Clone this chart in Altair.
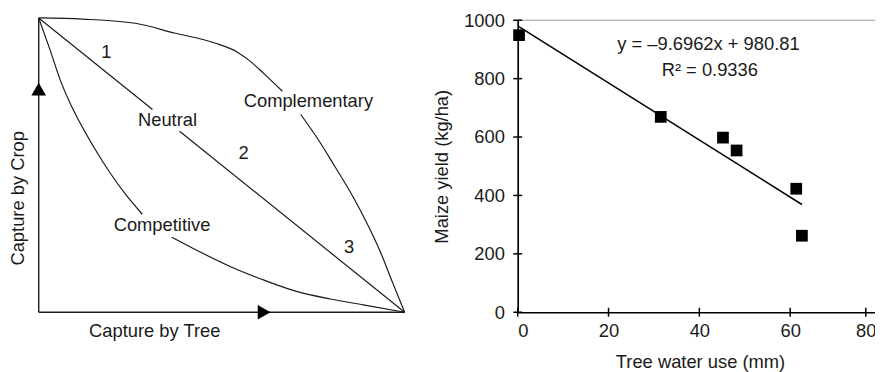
import altair as alt
import pandas as pd

FONT = "Liberation Sans"
INK = "#1a1a1a"
FS = 18.5

# ---------------- left panel (conceptual diagram, unit square) ----------------
comp_x_a = [0, 0.120, 0.264, 0.373, 0.481, 0.544, 0.576, 0.616, 0.666]
comp_y_a = [1.0, 0.996, 0.982, 0.948, 0.915, 0.883, 0.855, 0.810, 0.751]
comp_x_b = [0.716, 0.761, 0.806, 0.860, 0.896, 0.932, 0.968, 1.0]
comp_y_b = [0.672, 0.592, 0.502, 0.390, 0.305, 0.210, 0.098, 0.0]
cmpt_x_a = [0, 0.030, 0.061, 0.088, 0.111, 0.152, 0.192, 0.237, 0.283]
cmpt_y_a = [1.0, 0.895, 0.782, 0.704, 0.648, 0.558, 0.479, 0.401, 0.333]
cmpt_x_b = [0.364, 0.436, 0.526, 0.616, 0.707, 0.797, 0.887, 1.0]
cmpt_y_b = [0.255, 0.208, 0.154, 0.109, 0.070, 0.045, 0.025, 0.0]
neut_x_a = [0, 0.311]
neut_y_a = [1.0, 0.689]
neut_x_b = [0.385, 1.0]
neut_y_b = [0.615, 0.0]

lbl_text = ["1", "2", "3", "Neutral", "Complementary", "Competitive"]
lbl_x = [0.185, 0.560, 0.848, 0.352, 0.737, 0.337]
lbl_y = [0.883, 0.541, 0.223, 0.653, 0.717, 0.296]

ytitle_text = ["Capture by Crop"]
ytitle_x = [-0.056]
ytitle_y = [0.387]
xtitle_text = ["Capture by Tree"]
xtitle_x = [0.317]
xtitle_y = [-0.064]

arrow_shape = ["triangle-up", "triangle-right"]
arrow_x = [0.0, 0.616]
arrow_y = [0.758, 0.0]

axis_x1 = [0, 0]
axis_y1 = [0, 0]
axis_x2 = [0, 1]
axis_y2 = [1, 0]

# ---------------- right panel (data) ----------------
water = [0.3, 31.5, 45.2, 48.2, 61.6, 63.1]
maize = [949, 669, 598, 554, 423, 262]
slope = -9.6962
intercept = 980.81
fit_x = [0.0, 63.1]
x_ticks = [0, 20, 40, 60, 80]
y_ticks = [0, 200, 400, 600, 800, 1000]
eq_text = ["y = \u20139.6962x + 980.81", "R\u00b2 = 0.9336"]
eq_x = [42.0, 42.3]
eq_y = [920, 828]

# ---------------- build left ----------------
rows = []
for seg, xs, ys in [("ca", comp_x_a, comp_y_a), ("cb", comp_x_b, comp_y_b),
                    ("ka", cmpt_x_a, cmpt_y_a), ("kb", cmpt_x_b, cmpt_y_b),
                    ("na", neut_x_a, neut_y_a), ("nb", neut_x_b, neut_y_b)]:
    for a, b in zip(xs, ys):
        rows.append({"seg": seg, "x": a, "y": b})
curves = pd.DataFrame(rows)

LW, LH = 369.3, 297
xs_left = alt.Scale(domain=[0, 1], nice=False, zero=False)
ys_left = alt.Scale(domain=[0, 1], nice=False, zero=False)

curve_layer = alt.Chart(curves).mark_line(
    color=INK, strokeWidth=1.2, interpolate="monotone"
).encode(
    x=alt.X("x:Q", scale=xs_left, axis=None),
    y=alt.Y("y:Q", scale=ys_left, axis=None),
    detail="seg:N",
)

axes_df = pd.DataFrame({"x": axis_x1, "y": axis_y1, "x2": axis_x2, "y2": axis_y2})
axes_layer = alt.Chart(axes_df).mark_rule(color=INK, strokeWidth=1.4).encode(
    x=alt.X("x:Q", scale=xs_left, axis=None), y=alt.Y("y:Q", scale=ys_left, axis=None),
    x2="x2:Q", y2="y2:Q",
)

arrow_df = pd.DataFrame({"shape": arrow_shape, "x": arrow_x, "y": arrow_y})
arrow_layer = alt.Chart(arrow_df).mark_point(
    filled=True, color="#000000", size=220, opacity=1
).encode(
    x=alt.X("x:Q", scale=xs_left, axis=None), y=alt.Y("y:Q", scale=ys_left, axis=None),
    shape=alt.Shape("shape:N", scale=None, legend=None),
)

lbl_df = pd.DataFrame({"t": lbl_text, "x": lbl_x, "y": lbl_y})
lbl_layer = alt.Chart(lbl_df).mark_text(
    font=FONT, fontSize=FS, color=INK, align="center", baseline="middle"
).encode(
    x=alt.X("x:Q", scale=xs_left, axis=None), y=alt.Y("y:Q", scale=ys_left, axis=None),
    text="t:N",
)

yt_df = pd.DataFrame({"t": ytitle_text, "x": ytitle_x, "y": ytitle_y})
yt_layer = alt.Chart(yt_df).mark_text(
    font=FONT, fontSize=FS, color=INK, align="center", baseline="middle", angle=270
).encode(
    x=alt.X("x:Q", scale=xs_left, axis=None), y=alt.Y("y:Q", scale=ys_left, axis=None),
    text="t:N",
)
xt_df = pd.DataFrame({"t": xtitle_text, "x": xtitle_x, "y": xtitle_y})
xt_layer = alt.Chart(xt_df).mark_text(
    font=FONT, fontSize=FS, color=INK, align="center", baseline="middle"
).encode(
    x=alt.X("x:Q", scale=xs_left, axis=None), y=alt.Y("y:Q", scale=ys_left, axis=None),
    text="t:N",
)

left = alt.layer(axes_layer, curve_layer, arrow_layer, lbl_layer, yt_layer, xt_layer).properties(
    width=LW, height=LH
)

# ---------------- build right ----------------
RW, RH = 361.3, 297
xs_r = alt.Scale(domain=[0, 60, 80, 82.2], range=[0, 275, 351.3, 361.3], nice=False, zero=False)
ys_r = alt.Scale(domain=[0, 1000], range=[297, 2.3], nice=False, zero=False)

x_axis = alt.Axis(
    values=x_ticks, format="d", ticks=False, tickSize=0, grid=False, domainColor="#000000",
    domainWidth=1.7, labelFont=FONT, labelFontSize=FS, labelColor=INK, labelPadding=9.5,
    title="Tree water use (mm)", titleFont=FONT, titleFontSize=FS, titleColor=INK,
    titleFontWeight="normal", titlePadding=13, titleX=184,
)
y_axis = alt.Axis(
    values=y_ticks, format="d", ticks=False, tickSize=0, grid=False, domainColor="#000000",
    domainWidth=1.7, labelFont=FONT, labelFontSize=FS, labelColor=INK, labelPadding=13.4,
    title="Maize yield (kg/ha)", titleFont=FONT, titleFontSize=FS, titleColor=INK,
    titleFontWeight="normal", titlePadding=12,
)

pts_df = pd.DataFrame({"w": water, "m": maize})
top_df = pd.DataFrame({"m": [y_ticks[-1]]})
top_layer = alt.Chart(top_df).mark_rule(color="#9a9a9a", strokeWidth=1).encode(
    y=alt.Y("m:Q", scale=ys_r, axis=y_axis)
)

fit_df = pd.DataFrame({"w": fit_x, "m": [slope * v + intercept for v in fit_x]})
fit_layer = alt.Chart(fit_df).mark_line(color="#000000", strokeWidth=1.5).encode(
    x=alt.X("w:Q", scale=xs_r, axis=x_axis), y=alt.Y("m:Q", scale=ys_r, axis=y_axis)
)
pt_layer = alt.Chart(pts_df).mark_point(
    shape="square", filled=True, color="#000000", size=140, opacity=1
).encode(
    x=alt.X("w:Q", scale=xs_r, axis=x_axis), y=alt.Y("m:Q", scale=ys_r, axis=y_axis)
)

yt_ticks_df = pd.DataFrame({"m": y_ticks, "w": [0] * len(y_ticks)})
ytick_layer = alt.Chart(yt_ticks_df).mark_tick(
    orient="horizontal", size=9, thickness=1.5, color="#000000", opacity=1
).encode(
    x=alt.X("w:Q", scale=xs_r, axis=x_axis), y=alt.Y("m:Q", scale=ys_r, axis=y_axis)
)
xt_ticks_df = pd.DataFrame({"w": x_ticks, "m": [0] * len(x_ticks)})
xtick_layer = alt.Chart(xt_ticks_df).mark_tick(
    orient="vertical", size=9, thickness=1.5, color="#000000", opacity=1
).encode(
    x=alt.X("w:Q", scale=xs_r, axis=x_axis), y=alt.Y("m:Q", scale=ys_r, axis=y_axis)
)

eq_df = pd.DataFrame({"t": eq_text, "w": eq_x, "m": eq_y})
eq_layer = alt.Chart(eq_df).mark_text(
    font=FONT, fontSize=FS, color=INK, align="center", baseline="middle"
).encode(
    x=alt.X("w:Q", scale=xs_r, axis=x_axis), y=alt.Y("m:Q", scale=ys_r, axis=y_axis),
    text="t:N",
)

right = alt.layer(top_layer, fit_layer, pt_layer, ytick_layer, xtick_layer, eq_layer).properties(
    width=RW, height=RH
)

chart = alt.hconcat(left, right, spacing=113.4, bounds="flush").configure_view(
    stroke=None
).properties(
    autosize=alt.AutoSizeParams(type="none"),
    padding={"left": 31, "top": 7, "right": 844, "bottom": 357},
)

chart.save("out.html", embed_options={"renderer": "svg", "actions": False})
